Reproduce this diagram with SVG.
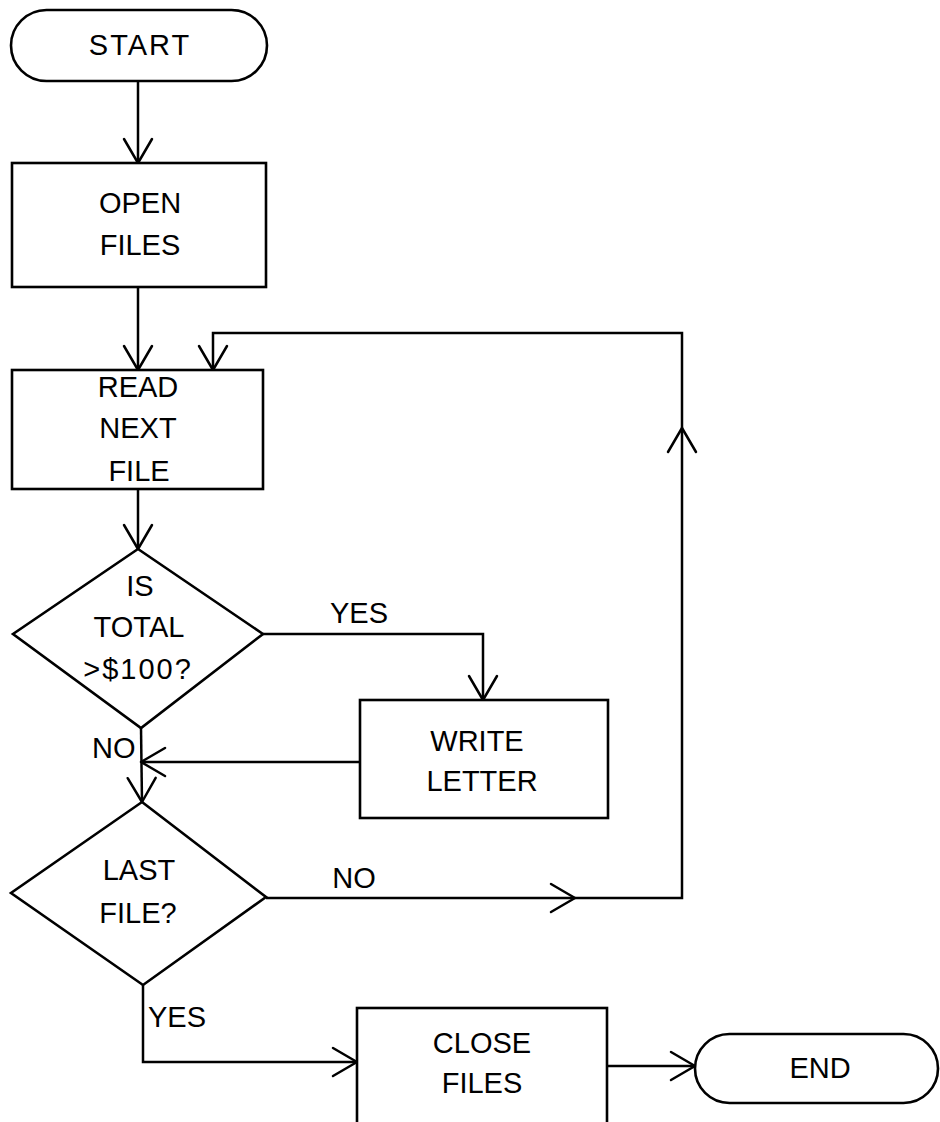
<svg xmlns="http://www.w3.org/2000/svg" width="940" height="1122" viewBox="0 0 940 1122">
<defs>
<marker id="arr" markerUnits="userSpaceOnUse" markerWidth="30" markerHeight="30" viewBox="0 0 30 30" refX="26" refY="15" orient="auto" overflow="visible">
<path d="M2,1 L26,15 L2,29" fill="none" stroke="#000" stroke-width="2.5" stroke-linecap="round" stroke-linejoin="round"/>
</marker>
</defs>
<style>
.shape{fill:#fff;stroke:#000;stroke-width:2.6}
.line{fill:none;stroke:#000;stroke-width:2.5}
.arrow{marker-end:url(#arr)}
text{font-family:"Liberation Sans",Arial,sans-serif;font-size:29px;fill:#000;text-anchor:middle}
.lbl{text-anchor:start}
.sp{letter-spacing:2px}
</style>
<rect width="940" height="1122" fill="#fff"/>
<g id="connectors">
<path class="line arrow" d="M138,81 L138,163"/>
<path class="line arrow" d="M138,287 L138,370"/>
<path class="line arrow" d="M138,489 L138,549"/>
<path class="line arrow" d="M263,634 L483,634 L483,700"/>
<path class="line arrow" d="M360,762 L141,762"/>
<path class="line arrow" d="M141,728 L142,802"/>
<path class="line arrow" d="M266,898 L575,898"/>
<path class="line arrow" d="M575,898 L682,898 L682,428"/>
<path class="line arrow" d="M682,428 L682,333 L213,333 L213,370"/>
<path class="line arrow" d="M143,985 L143,1062 L357,1062"/>
<path class="line arrow" d="M607,1066 L695,1066"/>
<text x="359" y="623">YES</text>
<text class="lbl" x="92" y="758">NO</text>
<text x="354" y="888">NO</text>
<text class="lbl" x="148" y="1027">YES</text>
</g>
<g id="start">
<rect class="shape" x="11" y="10" width="256" height="71" rx="35.5"/>
<text x="140" y="55" class="sp">START</text>
</g>
<g id="open-files">
<rect class="shape" x="12" y="163" width="254" height="124"/>
<text x="140" y="213">OPEN</text>
<text x="140" y="255">FILES</text>
</g>
<g id="read-next-file">
<rect class="shape" x="12" y="370" width="251" height="119"/>
<text x="138" y="397">READ</text>
<text x="138" y="438">NEXT</text>
<text x="139" y="481">FILE</text>
</g>
<g id="is-total">
<polygon class="shape" points="138,549 263,634 141,728 13,634"/>
<text x="140" y="596">IS</text>
<text x="139" y="637">TOTAL</text>
<text x="138" y="679" class="sp">&gt;$100?</text>
</g>
<g id="write-letter">
<rect class="shape" x="360" y="700" width="248" height="118"/>
<text x="477" y="751">WRITE</text>
<text x="482" y="791">LETTER</text>
</g>
<g id="last-file">
<polygon class="shape" points="142,802 266,897 143,985 11,893"/>
<text x="139" y="880">LAST</text>
<text x="138" y="923">FILE?</text>
</g>
<g id="close-files">
<rect class="shape" x="357" y="1008" width="250" height="140"/>
<text x="482" y="1053">CLOSE</text>
<text x="482" y="1093">FILES</text>
</g>
<g id="end">
<rect class="shape" x="695" y="1034" width="243" height="69" rx="34.5"/>
<text x="820" y="1078">END</text>
</g>
</svg>
